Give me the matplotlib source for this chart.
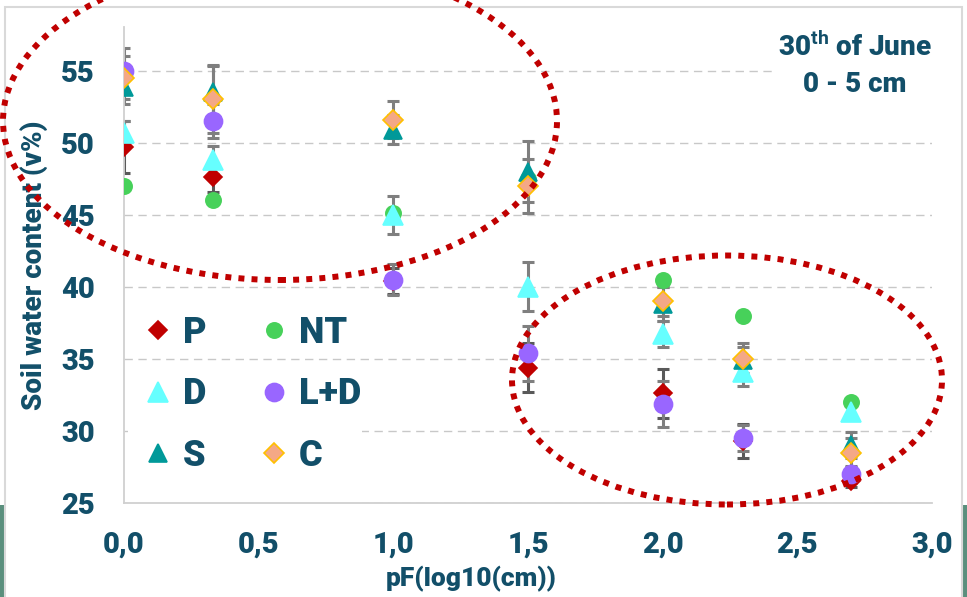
import matplotlib
matplotlib.use("Agg")
import matplotlib.pyplot as plt
from matplotlib.patches import Ellipse, Rectangle
from matplotlib.lines import Line2D

plt.rcParams['font.family'] = ['Roboto', 'DejaVu Sans']
plt.rcParams['mathtext.fontset'] = 'custom'
plt.rcParams['mathtext.rm'] = 'Roboto'
plt.rcParams['mathtext.bf'] = 'Roboto:bold'

# pF values (log10 cm)
pf = [0.0, 0.33, 1.0, 1.5, 2.0, 2.3, 2.7]

# soil water content (v%) per treatment
p_vals = [49.7, 47.6, 40.4, 34.4, 32.6, 29.3, 26.5]
nt_vals = [47.0, 46.0, 45.1, 47.5, 40.5, 38.0, 32.0]
d_vals = [50.7, 48.8, 45.0, 40.0, 36.7, 34.1, 31.3]
ld_vals = [55.0, 51.5, 40.5, 35.4, 31.9, 29.5, 27.0]
s_vals = [53.9, 53.5, 50.9, 48.0, 38.8, 34.9, 29.0]
c_vals = [54.5, 53.0, 51.6, 47.0, 39.0, 35.0, 28.5]

# standard deviations
p_err = [1.8, 1.0, 0.9, 1.7, 1.7, 1.2, 0.4]
nt_err = [0.2, 0.2, 0.2, 0.2, 0.2, 0.2, 0.2]
d_err = [0.8, 1.0, 1.3, 1.7, 0.9, 1.0, 0.5]
ld_err = [1.6, 1.2, 1.1, 1.9, 1.6, 0.9, 0.6]
s_err = [1.2, 1.9, 1.0, 2.1, 1.2, 0.9, 0.9]
c_err = [1.5, 2.3, 1.3, 1.9, 1.0, 1.1, 1.0]

x_ticks = [0.0, 0.5, 1.0, 1.5, 2.0, 2.5, 3.0]
x_labels = ["0,0", "0,5", "1,0", "1,5", "2,0", "2,5", "3,0"]
y_ticks = [25, 30, 35, 40, 45, 50, 55]

TXT = "#124F69"
WT = "black"
W, H = 967, 597

fig = plt.figure(figsize=(W / 100, H / 100), dpi=100)
fig.patch.set_facecolor("white")

# slide background pieces and chart frame
fig.patches.append(Rectangle((0, 0), 5 / W, 92 / H, transform=fig.transFigure,
                             facecolor="#5A8F7D", edgecolor="none", zorder=0))
fig.patches.append(Rectangle((963 / W, 0), 4 / W, 92 / H, transform=fig.transFigure,
                             facecolor="#5A8F7D", edgecolor="none", zorder=0))
fig.patches.append(Rectangle((5 / W, -0.05), 957 / W, 1.05 - 7 / H, transform=fig.transFigure,
                             facecolor="none", edgecolor="#D9D9D9", lw=1.5, zorder=1))

ax = fig.add_axes([124 / W, 1 - 503 / H, 808 / W, 476 / H])
ax.set_xlim(0, 3)
ax.set_ylim(25, 58.03)
ax.set_xticks(x_ticks)
ax.set_xticklabels(x_labels)
ax.set_yticks(y_ticks)
ax.tick_params(length=0, labelsize=21, labelcolor=TXT)
ax.tick_params(axis="x", pad=20)
ax.tick_params(axis="y", pad=21)
for lab in ax.get_xticklabels() + ax.get_yticklabels():
    lab.set_fontweight(WT)

for side in ["top", "right"]:
    ax.spines[side].set_visible(False)
for side in ["left", "bottom"]:
    ax.spines[side].set_color("#D0D0D0")
    ax.spines[side].set_linewidth(1.3)

ax.set_axisbelow(True)
ax.yaxis.grid(True, color="#C8C8C8", linestyle=(0, (6, 4)), linewidth=1.0)

ax.set_xlabel("pF(log10(cm))", fontsize=19, fontweight=WT, color=TXT)
ax.xaxis.set_label_coords((471 - 124) / 808, -0.133)
ax.set_ylabel("Soil water content (v%)", fontsize=20, fontweight=WT, color=TXT)
ax.yaxis.set_label_coords(-0.094, 0.5)

series = [
    ("P", p_vals, p_err, "D", 9, "#C00000", "#C00000", "#595959"),
    ("NT", nt_vals, nt_err, "o", 11, "#47D15A", "#47D15A", "#7F7F7F"),
    ("D", d_vals, d_err, "^", 15, "#66FFFF", "#66FFFF", "#7F7F7F"),
    ("L+D", ld_vals, ld_err, "o", 13, "#9966FF", "#9966FF", "#7F7F7F"),
    ("S", s_vals, s_err, "^", 13.5, "#009999", "#009999", "#7F7F7F"),
    ("C", c_vals, c_err, "D", 10, "#F4A886", "#FFC000", "#7F7F7F"),
]

for name, vals, err, mk, ms, fc, ec, bc in series:
    ax.errorbar(pf, vals, yerr=err, fmt="none", ecolor=bc, elinewidth=2.2,
                capsize=4, capthick=2.2, zorder=2)

handles = {}
for name, vals, err, mk, ms, fc, ec, bc in series:
    ax.plot(pf, vals, linestyle="none", marker=mk, markersize=ms,
            markerfacecolor=fc, markeredgecolor=ec, markeredgewidth=1.2, zorder=3)
    handles[name] = Line2D([], [], linestyle="none", marker=mk, markersize=ms,
                           markerfacecolor=fc, markeredgecolor=ec, markeredgewidth=1.2)

# white area behind legend
ax.add_patch(Rectangle((128 / W, 0), 234 / W, 214 / H, transform=fig.transFigure,
                       facecolor="white", edgecolor="none", zorder=1))
order = ["P", "D", "S", "NT", "L+D", "C"]
leg = ax.legend([handles[k] for k in order], order, ncol=2, frameon=False,
                loc="upper left", bbox_to_anchor=((140 - 124) / 808, (503 - 315) / 476),
                borderaxespad=0, borderpad=0, handlelength=1.0, handletextpad=0.2,
                columnspacing=1.35, labelspacing=0.7,
                prop={"size": 26, "weight": WT})
for t in leg.get_texts():
    t.set_color(TXT)

# white area behind the date label
fig.patches.append(Rectangle((775 / W, 1 - 105 / H), 160 / W, 80 / H, transform=fig.transFigure,
                             facecolor="white", edgecolor="none", zorder=1.5))
fig.text(855 / W, 1 - 47 / H, r"30$^{\mathbf{th}}$ of June", ha="center", va="center",
         fontsize=20, fontweight=WT, color=TXT, zorder=5)
fig.text(855 / W, 1 - 84 / H, "0 - 5 cm", ha="center", va="center",
         fontsize=20, fontweight=WT, color=TXT, zorder=5)

# highlighted groups
for cx, cy, w, h in [(280, 121, 554, 318), (727, 380, 430, 249)]:
    e = Ellipse((cx / W, 1 - cy / H), w / W, h / H, transform=fig.transFigure,
                facecolor="none", edgecolor="#C00000", linewidth=4.3,
                linestyle=(0, (1, 1.2)), zorder=10, clip_on=False)
    e.set_capstyle("butt")
    fig.patches.append(e)

fig.savefig("out.png", dpi=100)
plt.close(fig)
